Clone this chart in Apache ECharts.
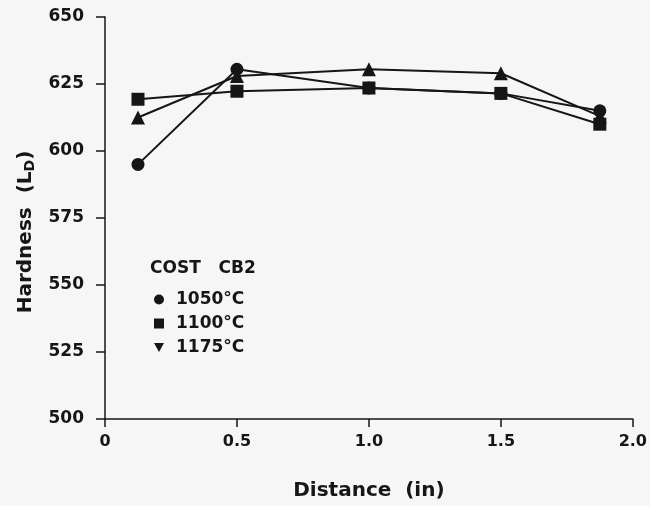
<!DOCTYPE html>
<html>
<head>
<meta charset="utf-8">
<script src="https://cdn.jsdelivr.net/npm/echarts@6/dist/echarts.min.js"></script>
<style>
html,body{margin:0;padding:0;background:#f6f6f6;}
#chart{width:650px;height:506px;}
</style>
</head>
<body>
<div id="chart"></div>
<script>
var distances = [0.125, 0.5, 1.0, 1.5, 1.875];
var seriesNames = ['1050°C', '1100°C', '1175°C'];
var hardness1050 = [595, 630.5, 623.5, 621.5, 615];
var hardness1100 = [619.3, 622.3, 623.5, 621.5, 610];
var hardness1175 = [612.5, 628, 630.5, 629, 613];
var xTicks = [0, 0.5, 1.0, 1.5, 2.0];
var yTicks = [500, 525, 550, 575, 600, 625, 650];
var legendTitle = 'COST   CB2';

function pairs(xs, ys) { return xs.map(function (x, i) { return [x, ys[i]]; }); }

var font = 'DejaVu Sans, Verdana, sans-serif';
var ink = '#161616';
var downTri = 'path://M0,0 L10,0 L5,9 Z';

var chart = echarts.init(document.getElementById('chart'), null, {renderer: 'canvas'});
var option = {
  backgroundColor: '#f6f6f6',
  animation: false,
  grid: {left: 105, right: 12, top: 17, bottom: 87, containLabel: false},
  xAxis: {
    type: 'value', min: 0, max: 2.0, interval: 0.5,
    name: 'Distance  (in)', nameLocation: 'middle', nameGap: 62,
    nameTextStyle: {fontFamily: font, fontWeight: 'bold', fontSize: 20, color: ink},
    axisLine: {show: true, lineStyle: {color: ink, width: 1.5}},
    axisTick: {show: true, inside: false, length: 8, lineStyle: {color: ink, width: 1.5}},
    axisLabel: {fontFamily: font, fontWeight: 'bold', fontSize: 16, color: ink, margin: 15,
      formatter: function (v) { return v === 0 ? '0' : v.toFixed(1); }},
    splitLine: {show: false}
  },
  yAxis: {
    type: 'value', min: 500, max: 650, interval: 25,
    name: 'Hardness  (L{sub|D})', nameLocation: 'middle', nameGap: 68,
    nameTextStyle: {fontFamily: font, fontWeight: 'bold', fontSize: 20, color: ink, padding: [0, 28, 0, 0],
      rich: {sub: {fontFamily: font, fontWeight: 'bold', fontSize: 14, color: ink, padding: [0, 0, -9, 0]}}},
    axisLine: {show: true, lineStyle: {color: ink, width: 1.5}},
    axisTick: {show: true, inside: false, length: 9, lineStyle: {color: ink, width: 1.5}},
    axisLabel: {fontFamily: font, fontWeight: 'bold', fontSize: 17, color: ink, margin: 21},
    splitLine: {show: false}
  },
  legend: {
    orient: 'vertical', left: 149, top: 286, itemGap: 7, itemWidth: 10, itemHeight: 10,
    data: [
      {name: seriesNames[0], icon: 'circle'},
      {name: seriesNames[1], icon: 'rect'},
      {name: seriesNames[2], icon: downTri}
    ],
    textStyle: {fontFamily: font, fontWeight: 'bold', fontSize: 17, color: ink, padding: [0, 0, 0, 7]},
    itemStyle: {color: ink}
  },
  graphic: [{
    type: 'text', left: 150, top: 260,
    style: {text: legendTitle, fontFamily: font, fontWeight: 'bold', fontSize: 17, fill: ink}
  }],
  series: [
    {name: seriesNames[0], type: 'line', data: pairs(distances, hardness1050), symbol: 'circle', symbolSize: 13,
      lineStyle: {color: ink, width: 2}, itemStyle: {color: ink}, z: 2},
    {name: seriesNames[1], type: 'line', data: pairs(distances, hardness1100), symbol: 'rect', symbolSize: 13,
      lineStyle: {color: ink, width: 2}, itemStyle: {color: ink}, z: 3},
    {name: seriesNames[2], type: 'line', data: pairs(distances, hardness1175), symbol: 'triangle', symbolSize: 14,
      lineStyle: {color: ink, width: 2}, itemStyle: {color: ink}, z: 2}
  ]
};
chart.setOption(option);
</script>
</body>
</html>
